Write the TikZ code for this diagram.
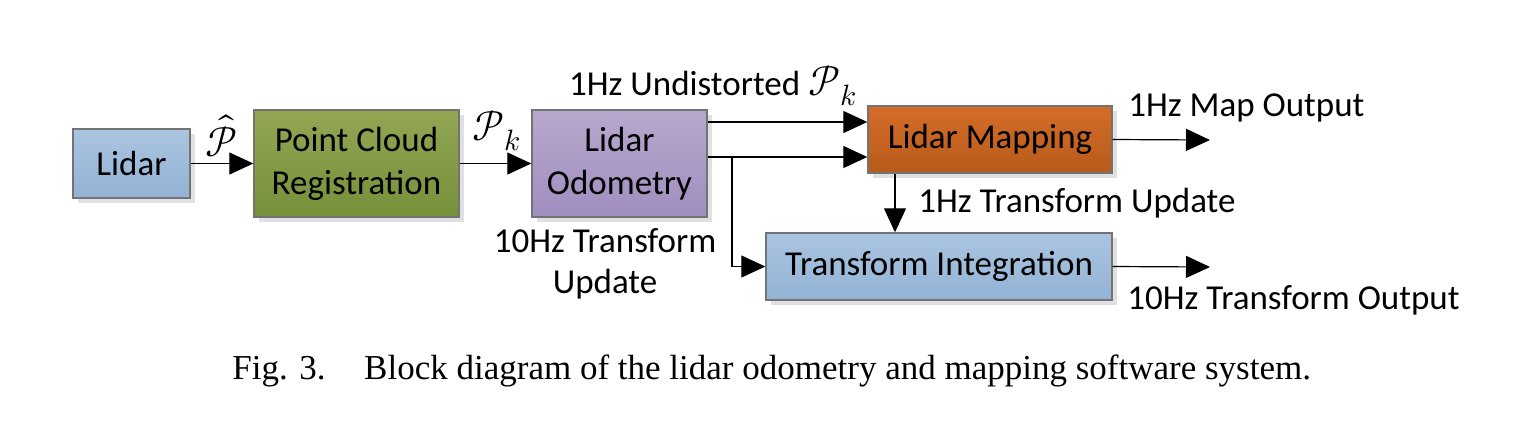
\documentclass[tikz,border=0pt]{standalone}
\usepackage{fontspec}
\setmainfont{Carlito}
\newfontfamily\capfont{Liberation Serif}
\usepackage{unicode-math}
\usetikzlibrary{arrows.meta,shadows}
\definecolor{blueT}{HTML}{AAC5E0}
\definecolor{blueB}{HTML}{93B2D5}
\definecolor{greenT}{HTML}{93A653}
\definecolor{greenB}{HTML}{76903A}
\definecolor{purT}{HTML}{B7A8CD}
\definecolor{purB}{HTML}{A08EBF}
\definecolor{orT}{HTML}{D46D28}
\definecolor{orB}{HTML}{B85A1B}
\newcommand{\mylabmath}[1]{{\fontsize{21}{23}\selectfont$#1$}}
\tikzset{
  blk/.style={draw=black!55, line width=0.7pt, inner sep=0pt, align=center,
    font=\fontsize{17.5}{21.5}\selectfont,
    drop shadow={shadow xshift=2.5pt, shadow yshift=-2.5pt, fill=black!12, opacity=1}},
  arr/.style={-{Triangle[length=12pt,width=11pt]}, line width=0.6pt},
  lbl/.style={font=\fontsize{17.5}{20.5}\selectfont, inner sep=0pt, align=center},
}
\begin{document}
\begin{tikzpicture}[x=0.5pt,y=-0.5pt]
\useasboundingbox (0,0) rectangle (1532,420);
% boxes
\node[blk, top color=blueT, bottom color=blueB, minimum width=58.5pt, minimum height=34.5pt] (lidar) at (131.5,163.5) {Lidar};
\node[blk, top color=greenT, bottom color=greenB, minimum width=102.5pt, minimum height=53.5pt] (pcr) at (356.5,163.5) {Point Cloud\\Registration};
\node[blk, top color=purT, bottom color=purB, minimum width=87.5pt, minimum height=53.5pt] (lo) at (619.5,163.5) {Lidar\\Odometry};
\node[blk, top color=orT, bottom color=orB, minimum width=122pt, minimum height=33.5pt] (lm) at (990,139.5) {Lidar Mapping};
\node[blk, top color=blueT, bottom color=blueB, minimum width=173pt, minimum height=33.5pt] (ti) at (939,266.5) {Transform Integration};
% coordinates
\coordinate (br) at (732,157);
\coordinate (mo) at (1210,140);
\coordinate (to) at (1210,267);
% connectors
\draw[arr] (lidar.east) -- (pcr.west);
\draw[arr] (pcr.east) -- (lo.west);
\draw[arr] (lo.east |- 0,122) -- (lm.west |- 0,122);
\draw[arr] (lo.east |- br) -- (lm.west |- br);
\draw[arr] (br) |- (ti.west);
\draw[arr] (lm.south -| 895,0) -- (ti.north -| 895,0);
\draw[arr] (lm.east) -- (mo);
\draw[arr] (ti.east) -- (to);
% labels
\node[lbl] (l1) at (222,136) {\mylabmath{\hat{\mathcal{P}}}};
\node[lbl] (l2) at (497,131) {\mylabmath{\mathcal{P}_k}};
\node[lbl] (l3) at (713,86) {1Hz Undistorted \mylabmath{\mathcal{P}_k}};
\node[lbl, anchor=west] (l4) at (1128,108) {1Hz Map Output};
\node[lbl, anchor=west] (l5) at (918,203) {1Hz Transform Update};
\node[lbl] (l6) at (605,264) {10Hz Transform\\Update};
\node[lbl, anchor=west] (l7) at (1127,300) {10Hz Transform Output};
\node[font=\capfont\fontsize{17.5}{20}\selectfont, inner sep=0pt, anchor=west] (cap) at (232,371) {Fig. 3.\hspace{1.1em}Block diagram of the lidar odometry and mapping software system.};
\end{tikzpicture}
\end{document}
